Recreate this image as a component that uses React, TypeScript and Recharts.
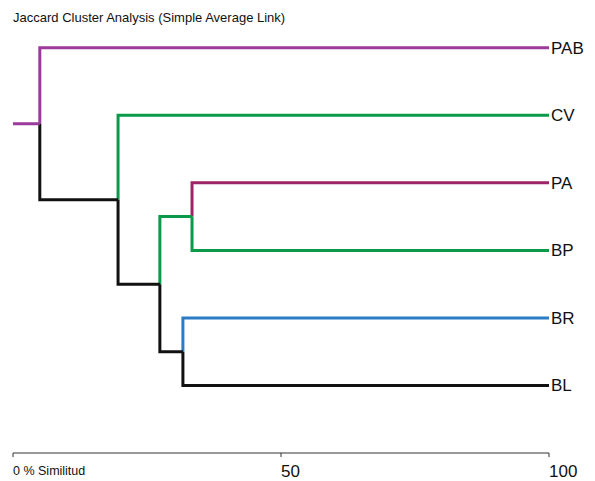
import { LineChart, Line, XAxis, YAxis } from 'recharts'

// leaves, top to bottom
const leaves = ['PAB', 'CV', 'PA', 'BP', 'BR', 'BL']
const leafColors = ['#9b3a9b', '#0a9a4a', '#9e2468', '#0a9a4a', '#2a7cc6', '#111111']

// merge steps: ids 0-5 are leaves, merge k creates node 6 + k
const mergeLeft = [2, 4, 6, 1, 0]
const mergeRight = [3, 5, 7, 8, 9]
const mergeSimilarity = [33.4, 31.7, 27.4, 19.6, 5.0]
const mergeColors = ['#0a9a4a', '#111111', '#111111', '#111111', '#9b3a9b']

const xTicks = [0, 50, 100]
const xTickLabels = ['0 % Similitud', '50', '100']

const font = '"Liberation Sans", Arial, sans-serif'

type Pt = { x: number; y: number }

function buildSegments() {
  const pos: Pt[] = leaves.map((_, i) => ({ x: 100, y: i }))
  const color: string[] = [...leafColors]
  const segs: { pts: Pt[]; color: string }[] = []
  mergeLeft.forEach((l, k) => {
    const r = mergeRight[k]
    const node = { x: mergeSimilarity[k], y: (pos[l].y + pos[r].y) / 2 }
    pos.push(node)
    color.push(mergeColors[k])
    ;[l, r].forEach((c) => {
      segs.push({
        pts: [node, { x: node.x, y: pos[c].y }, pos[c]],
        color: color[c],
      })
    })
  })
  const root = pos[pos.length - 1]
  segs.push({ pts: [{ x: 0, y: root.y }, root], color: color[color.length - 1] })
  return segs
}

const segments = buildSegments()

function XTick(props: any) {
  const { x, y, payload } = props
  const i = xTicks.indexOf(payload.value)
  const small = i === 0
  return (
    <text
      x={x}
      y={y + (small ? 16 : 18)}
      textAnchor="start"
      fontSize={small ? 12.5 : 17}
      fontFamily={font}
      fill="#111"
    >
      {xTickLabels[i]}
    </text>
  )
}

export default function App() {
  return (
    <div style={{ position: 'absolute', left: 0, top: 0, width: 595, height: 481, background: '#fff' }}>
      <div
        style={{
          position: 'absolute',
          left: 13,
          top: 10,
          fontSize: 13,
          fontFamily: font,
          color: '#111',
          whiteSpace: 'nowrap',
        }}
      >
        Jaccard Cluster Analysis (Simple Average Link)
      </div>
      <LineChart width={595} height={481} margin={{ top: 14, right: 0, bottom: 0, left: 13 }}>
        <XAxis
          type="number"
          dataKey="x"
          domain={[0, 100]}
          ticks={xTicks}
          height={28}
          tickSize={4}
          stroke="#333"
          tick={<XTick />}
          allowDataOverflow
        />
        <YAxis
          orientation="right"
          type="number"
          dataKey="y"
          domain={[-0.5, 6]}
          reversed
          ticks={leaves.map((_, i) => i)}
          tickFormatter={(v: number) => leaves[v] ?? ''}
          axisLine={false}
          tickLine={false}
          tickSize={0}
          tickMargin={2}
          width={46}
          tick={{ fontSize: 17, fontFamily: font, fill: '#111' }}
        />
        {segments.map((s, i) => (
          <Line
            key={i}
            data={s.pts}
            dataKey="y"
            type="linear"
            stroke={s.color}
            strokeWidth={3}
            dot={false}
            activeDot={false}
            isAnimationActive={false}
          />
        ))}
      </LineChart>
    </div>
  )
}
